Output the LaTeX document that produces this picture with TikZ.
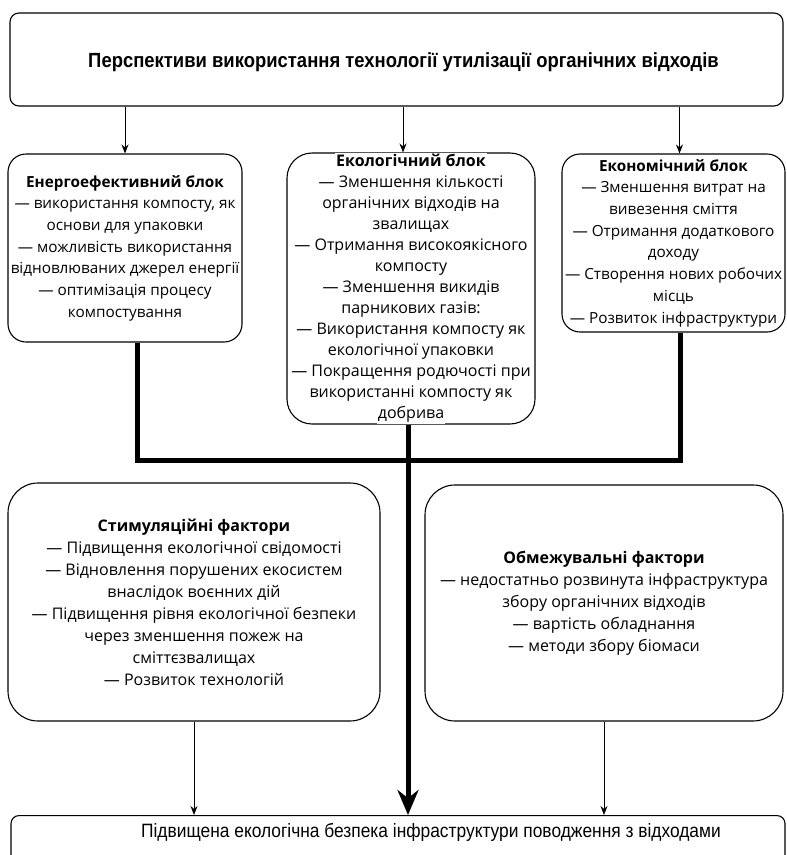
\documentclass[tikz,border=0pt]{standalone}
\usepackage{fontspec}
\setmainfont{Open Sans}
\newfontfamily\narrowfont[FakeStretch=0.9]{Liberation Sans}
\usetikzlibrary{arrows.meta, positioning}
\setlength{\fboxsep}{1pt}

\begin{document}
\begin{tikzpicture}[
    x=1pt, y=-1pt,
    % Stil für die Blöcke mit Aufzählung
    blk/.style={draw, line width=1.1pt, rounded corners=#1, align=center,
                inner sep=0pt, font=\fontsize{16}{22}\selectfont},
    blk/.default=18pt,
    % schmalere Schrift in den oberen Seitenblöcken
    small/.style={font=\fontsize{15.3}{21.7}\selectfont},
    % Kopf- und Ergebnisleiste
    bar/.style={draw, line width=1.1pt, rounded corners=9pt, align=center, inner sep=0pt},
    % dünne Pfeile
    pf/.style={-{Stealth[length=9pt,width=7pt]}, line width=0.9pt},
    % dicke Sammelleitung
    fat/.style={line width=5pt},
    fatpf/.style={fat, -{Stealth[length=25pt,width=21pt]}}
]

\useasboundingbox (0,0) rectangle (787,855);

% --- OBEN: TITEL ---
\node[bar, minimum width=773pt, minimum height=93pt] (ptop) at (396.5,59.5) {};
\node[font=\narrowfont\bfseries\fontsize{20.5}{24}\selectfont] (ptoptxt)
    at ([xshift=7pt,yshift=-3pt]ptop.center)
    {Перспективи використання технології утилізації органічних відходів};

% --- DREI BLÖCКE ---
\node[blk, small, minimum width=234pt, minimum height=188pt] (enb) at (125,248)
    {\textbf{Енергоефективний блок}\\— використання компосту, як\\основи для упаковки\\— можливість використання\\відновлюваних джерел енергії\\— оптимізація процесу\\компостування};

\node[blk=25pt, minimum width=248pt, minimum height=271pt] (ekol) at (411,288.5) {};

\node[blk, small, minimum width=223pt, minimum height=178pt] (ekon) at (673.5,243)
    {\textbf{Економічний блок}\\— Зменшення витрат на\\вивезення сміття\\— Отримання додаткового\\доходу\\— Створення нових робочих\\місць\\— Розвиток інфраструктури};

\draw[pf] (ptop.south -| enb.north) -- (enb.north);
\draw[pf] ([xshift=-8pt]ptop.south -| ekol.north) -- ([xshift=-8pt]ekol.north);
\draw[pf] ([xshift=6pt]ptop.south -| ekon.north) -- ([xshift=6pt]ekon.north);

% Sammelleitung
\coordinate (knot) at (408,460);
\draw[fat] ([xshift=12pt]enb.south) |- (knot) -| ([xshift=6.5pt]ekon.south);

% --- FAKTOREN ---
\node[blk=30pt, minimum width=372pt, minimum height=238pt] (stim) at (194,602)
    {\textbf{Стимуляційні фактори}\\— Підвищення екологічної свідомості\\— Відновлення порушених екосистем\\внаслідок воєнних дій\\— Підвищення рівня екологічної безпеки\\через зменшення пожеж на\\сміттєзвалищах\\— Розвиток технологій};

\node[blk=30pt, minimum width=358pt, minimum height=236pt] (obm) at (604,603)
    {\textbf{Обмежувальні фактори}\\— недостатньо розвинута інфраструктура\\збору органічних відходів\\— вартість обладнання\\— методи збору біомаси};

% --- UNTEN: ERGEBNIS ---
\node[bar, rounded corners=8pt, anchor=north, minimum width=774pt, minimum height=70pt] (res) at (398,815) {};
\node[font=\narrowfont\fontsize{19.3}{22}\selectfont] (restxt)
    at ([xshift=33pt,yshift=-17pt]res.north)
    {Підвищена екологічна безпека інфраструктури поводження з відходами};

\draw[fatpf] ([xshift=-3pt]ekol.south) -- ([xshift=-3pt]ekol.south |- res.north);
\draw[pf] (stim.south) -- (stim.south |- res.north);
\draw[pf] (obm.south) -- (obm.south |- res.north);

% Text im ökologischen Block (ragt über den Rahmen)
\node[align=center, inner sep=0pt, font=\fontsize{16}{21}\selectfont] (ekoltxt) at (ekol)
    {\colorbox{white}{\textbf{Екологічний блок}}\\— Зменшення кількості\\органічних відходів на\\звалищах\\— Отримання високоякісного\\компосту\\— Зменшення викидів\\парникових газів:\\— Використання компосту як\\екологічної упаковки\\— Покращення родючості при\\використанні компосту як\\\colorbox{white}{добрива}};

\end{tikzpicture}
\end{document}
